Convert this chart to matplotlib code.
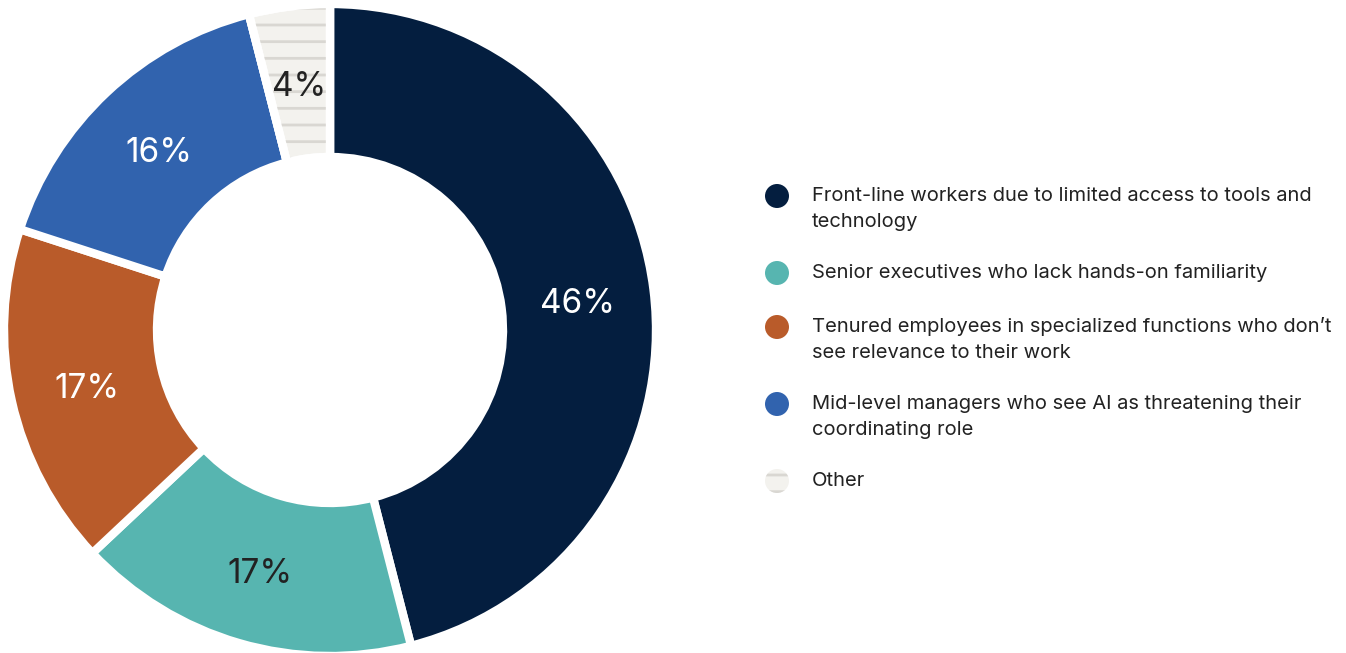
import matplotlib
matplotlib.use("Agg")
import numpy as np
import matplotlib.pyplot as plt
from matplotlib.patches import Wedge, Circle

plt.rcParams['font.family'] = ['Inter', 'DejaVu Sans']
plt.rcParams['hatch.linewidth'] = 2.0

# shares of respondents, clockwise from 12 o'clock
labels = [
    "Front-line workers due to limited access to tools and\ntechnology",
    "Senior executives who lack hands-on familiarity",
    "Tenured employees in specialized functions who don\u2019t\nsee relevance to their work",
    "Mid-level managers who see AI as threatening their\ncoordinating role",
    "Other",
]
values = [46, 17, 17, 16, 4]
colors = ["#041e3f", "#57b5b0", "#b95b2a", "#3163ae", "#f3f2ee"]
label_colors = ["white", "#222222", "white", "white", "#222222"]

W, H = 1346, 653
fig = plt.figure(figsize=(W / 100, H / 100), dpi=100)

# donut axes: square box around the ring
cx, cy, R = 330, 330, 326
ax = fig.add_axes([(cx - R) / W, (H - cy - R) / H, 2 * R / W, 2 * R / H])

ring = 1 - 173 / 326
gap = 6.0
wedges, _ = ax.pie(values, colors=colors, startangle=90, counterclock=False,
                   radius=1.0, wedgeprops=dict(width=ring, edgecolor='white', linewidth=gap))
ax.set_xlim(-1, 1)
ax.set_ylim(-1, 1)
ax.set_aspect('equal')
ax.axis('off')

# striped fill for "Other"
w = wedges[-1]
ax.add_patch(Wedge(w.center, w.r, w.theta1, w.theta2, width=w.width, facecolor='none',
                   edgecolor='#d9d7d2', linewidth=0, hatch='-', zorder=3))
ax.add_patch(Wedge(w.center, w.r, w.theta1, w.theta2, width=w.width, facecolor='none',
                   edgecolor='white', linewidth=gap, zorder=4))

# percentage labels at the middle of the ring
mid_r = 1 - ring / 2
for wd, v, c in zip(wedges, values, label_colors):
    ang = np.deg2rad((wd.theta1 + wd.theta2) / 2)
    ax.annotate(f"{v}%", (mid_r * np.cos(ang), mid_r * np.sin(ang)), xytext=(0, -3.5),
                textcoords='offset points', ha='center', va='center',
                fontsize=24, color=c, zorder=5)

# legend on the right
mx, tx = 777, 812
y = 196
line_h = 26
for lab, col in zip(labels, colors):
    lines = lab.split("\n")
    mk = fig.add_axes([(mx - 12) / W, (H - y - 12) / H, 24 / W, 24 / H])
    mk.set_xlim(-1, 1)
    mk.set_ylim(-1, 1)
    mk.axis('off')
    if lab == "Other":
        mk.add_patch(Circle((0, 0), 1, facecolor=col, edgecolor='#d9d7d2', linewidth=0, hatch='-'))
    else:
        mk.add_patch(Circle((0, 0), 1, facecolor=col, linewidth=0))
    for i, ln in enumerate(lines):
        fig.text(tx / W, (H - y - i * line_h) / H, ln, ha='left', va='center',
                 fontsize=14.5, color='#222222')
    y += len(lines) * line_h + 25 if len(lines) > 1 else 54

fig.savefig("out.png", dpi=100)
